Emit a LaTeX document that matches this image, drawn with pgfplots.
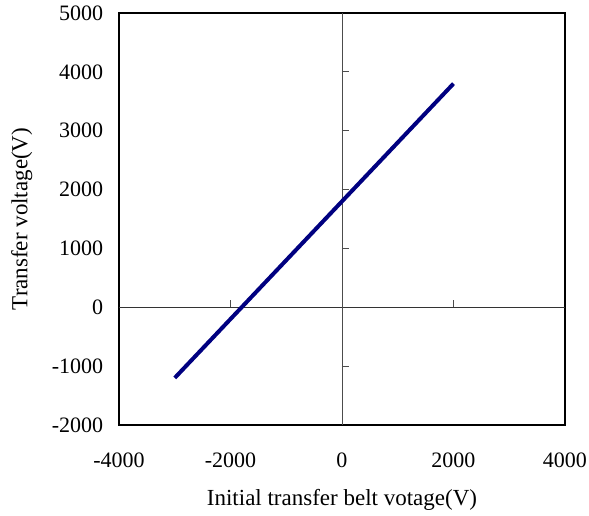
\documentclass[border=0pt]{standalone}
\usepackage{pgfplots}
\pgfplotsset{compat=1.18}
\usepackage{fontspec}
\setmainfont{Liberation Serif}
\definecolor{navyline}{RGB}{0,0,128}
\begin{document}
\fontsize{20}{24}\selectfont
\begin{tikzpicture}
\begin{axis}[
  scale only axis,
  width=446pt, height=412pt,
  xmin=-4000, xmax=4000, ymin=-2000, ymax=5000,
  xtick={-4000,-2000,0,2000,4000},
  ytick={-2000,-1000,0,1000,2000,3000,4000,5000},
  major tick length=0pt,
  /pgf/number format/assume math mode=true,
  /pgf/number format/set thousands separator={},
  ticklabel style={font=\fontsize{22}{26}\selectfont},
  xticklabel style={yshift=-21pt},
  yticklabel style={xshift=-9pt},
  axis line style={line width=2.2pt},
  xlabel={Initial transfer belt votage(V)},
  ylabel={Transfer voltage(V)},
  label style={font=\fontsize{23}{27}\selectfont},
  xlabel style={yshift=-8pt},
  ylabel style={yshift=6pt},
  clip=false,
]
\draw[black!80, line width=0.9pt] (axis cs:-4000,0) -- (axis cs:4000,0);
\draw[black!70, line width=0.9pt] (axis cs:0,-2000) -- (axis cs:0,5000);
\draw[black!70, line width=0.9pt] (axis cs:-2000,0) -- (axis cs:-2000,120);
\draw[black!70, line width=0.9pt] (axis cs:0,0) -- (axis cs:0,120);
\draw[black!70, line width=0.9pt] (axis cs:2000,0) -- (axis cs:2000,120);
\draw[black!70, line width=0.9pt] (axis cs:0,-1000) -- (axis cs:125,-1000);
\draw[black!70, line width=0.9pt] (axis cs:0,1000) -- (axis cs:125,1000);
\draw[black!70, line width=0.9pt] (axis cs:0,2000) -- (axis cs:125,2000);
\draw[black!70, line width=0.9pt] (axis cs:0,3000) -- (axis cs:125,3000);
\draw[black!70, line width=0.9pt] (axis cs:0,4000) -- (axis cs:125,4000);
\addplot[navyline, line width=4pt, no marks] table {
x y
-3000 -1200
-2000 -200
-1000 800
0 1800
1000 2800
2000 3800
};
\end{axis}
\pgfresetboundingbox
\path[use as bounding box] (-119pt,-91pt) rectangle (470pt,425pt);
\end{tikzpicture}
\end{document}
